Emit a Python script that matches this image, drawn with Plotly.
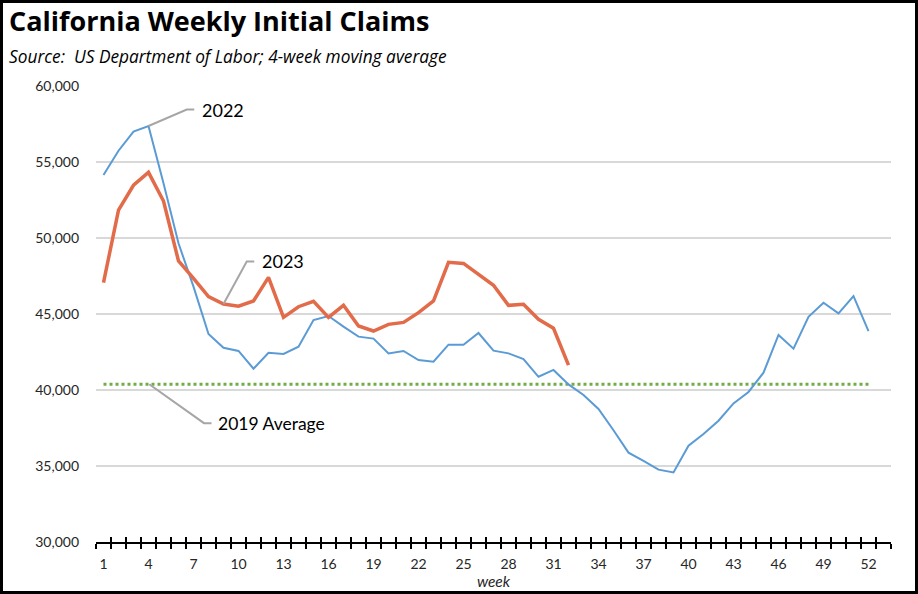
import plotly.graph_objects as go

weeks_2022 = list(range(1, 53))
claims_2022 = [54150, 55740, 57000, 57370, 53600, 49650, 46800, 43680, 42780, 42570,
               41400, 42450, 42370, 42850, 44600, 44870, 44170, 43510, 43380, 42410,
               42570, 41970, 41860, 42980, 42980, 43750, 42590, 42410, 42040, 40870,
               41320, 40370, 39670, 38750, 37350, 35880, 35330, 34760, 34580, 36330,
               37100, 37980, 39120, 39870, 41140, 43620, 42720, 44820, 45740, 45040,
               46180, 43880]

weeks_2023 = list(range(1, 33))
claims_2023 = [47060, 51840, 53470, 54320, 52430, 48490, 47350, 46140, 45660, 45510,
               45860, 47410, 44780, 45480, 45830, 44780, 45570, 44210, 43880, 44320,
               44450, 45090, 45860, 48400, 48330, 47610, 46890, 45570, 45640, 44650,
               44060, 41640]

avg_2019 = 40380
tick_weeks = list(range(1, 53, 3))
y_ticks = [30000, 35000, 40000, 45000, 50000, 55000, 60000]

FONT = "Lato"
TITLE_FONT = "Open Sans"
fig = go.Figure()

fig.add_trace(go.Scatter(x=weeks_2022, y=[avg_2019] * len(weeks_2022), mode="lines",
                         line=dict(color="#70AD47", width=3, dash="dot"),
                         name="2019 Average", hoverinfo="skip"))
fig.add_trace(go.Scatter(x=weeks_2022, y=claims_2022, mode="lines",
                         line=dict(color="#5B9BD5", width=2), name="2022"))
fig.add_trace(go.Scatter(x=weeks_2023, y=claims_2023, mode="lines",
                         line=dict(color="#E26B4A", width=3.5), name="2023"))

boundaries = [w + 0.5 for w in range(0, 54)]

fig.update_layout(
    width=918, height=594,
    margin=dict(l=96, r=27, t=86, b=52),
    paper_bgcolor="white", plot_bgcolor="white",
    showlegend=False,
    font=dict(family=FONT, color="#262626", size=14),
    xaxis=dict(range=[0.5, 53.5], tickmode="array", tickvals=tick_weeks,
               ticktext=[str(w) for w in tick_weeks], ticks="", showgrid=False,
               zeroline=False, showline=True, linecolor="black", linewidth=2,
               ticklabelstandoff=8,
               tickfont=dict(size=14, color="#262626"),
               minor=dict(tickmode="array", tickvals=boundaries, ticks="outside",
                          ticklen=5, tickwidth=1.5, tickcolor="black", showgrid=False),
               title=dict(text="<i>week</i>", font=dict(size=15.5), standoff=0)),
    xaxis2=dict(range=[0.5, 53.5], overlaying="x", anchor="y", side="bottom",
                tickmode="array", tickvals=boundaries, ticks="inside", ticklen=5,
                tickwidth=1.5, tickcolor="black", showticklabels=False,
                showgrid=False, zeroline=False, showline=False),
    yaxis=dict(range=[30000, 60000], tickmode="array", tickvals=y_ticks,
               ticktext=[f"{v:,}" for v in y_ticks], showgrid=True,
               gridcolor="#D9D9D9", gridwidth=2, zeroline=False, showline=False,
               ticks="", ticklabelstandoff=16, tickfont=dict(size=14, color="#262626")),
)

fig.add_trace(go.Scatter(x=[1], y=[None], xaxis="x2", yaxis="y", showlegend=False,
                         hoverinfo="skip"))

line_style = dict(color="#A6A6A6", width=2)
fig.add_trace(go.Scatter(x=[4, 6.55, 7.05], y=[57370, 58450, 58450], mode="lines",
                         line=line_style, hoverinfo="skip"))
fig.add_trace(go.Scatter(x=[9, 10.55, 11.05], y=[45660, 48460, 48460], mode="lines",
                         line=line_style, hoverinfo="skip"))
fig.add_trace(go.Scatter(x=[4.05, 7.7, 8.2], y=[avg_2019, 37820, 37820], mode="lines",
                         line=line_style, hoverinfo="skip"))

fig.add_annotation(x=7.4, y=58450, text="2022", showarrow=False, xanchor="left",
                   yanchor="middle", font=dict(size=18, color="black", family=FONT))
fig.add_annotation(x=11.4, y=48460, text="2023", showarrow=False, xanchor="left",
                   yanchor="middle", font=dict(size=18, color="black", family=FONT))
fig.add_annotation(x=8.5, y=37820, text="2019 Average", showarrow=False, xanchor="left",
                   yanchor="middle", font=dict(size=17.5, color="black", family=FONT))

fig.add_annotation(xref="paper", yref="paper", x=(7 - 96) / 795, y=(542 - 20) / 456,
                   text="<b>California Weekly Initial Claims</b>", showarrow=False,
                   xanchor="left", yanchor="middle",
                   font=dict(size=27, color="black", family=TITLE_FONT))
fig.add_annotation(xref="paper", yref="paper", x=(7 - 96) / 795, y=(542 - 57) / 456,
                   text="<i>Source:  US Department of Labor; 4-week moving average</i>",
                   showarrow=False, xanchor="left", yanchor="middle",
                   font=dict(size=17.3, color="black", family=TITLE_FONT))

fig.add_shape(type="rect", xref="paper", yref="paper",
              x0=(1.5 - 96) / 795, x1=(916.5 - 96) / 795,
              y0=(542 - 592.5) / 456, y1=(542 - 1.5) / 456,
              line=dict(color="black", width=3), fillcolor="rgba(0,0,0,0)", layer="above")

fig.write_html("out.html", config={"displayModeBar": False},
               post_script="document.body.style.margin='0';")
